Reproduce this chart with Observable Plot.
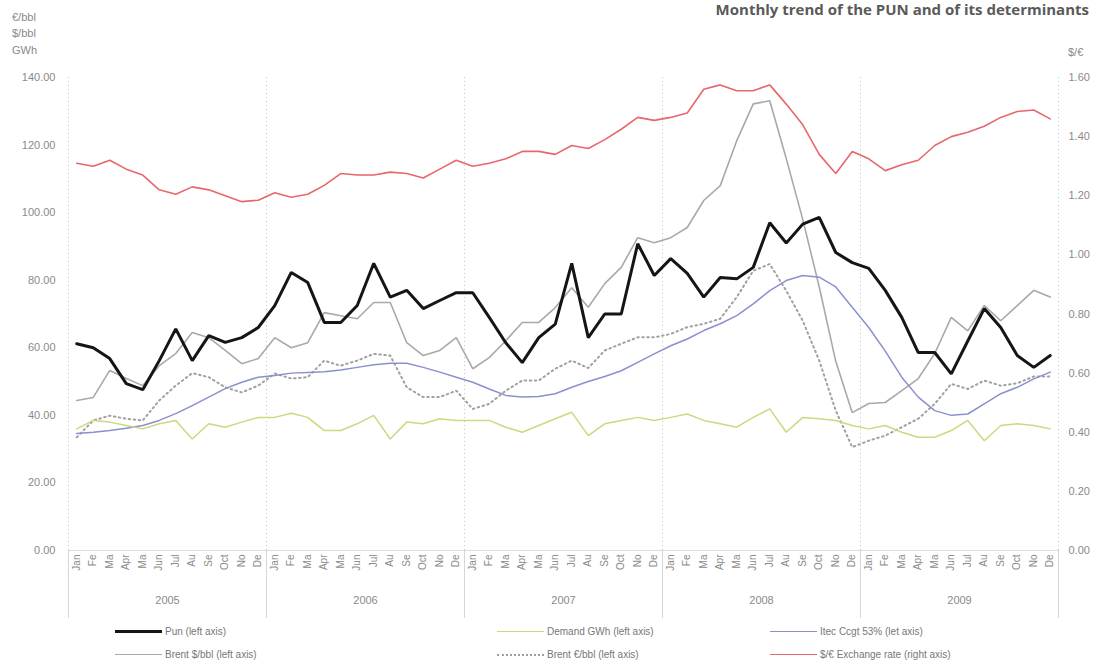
<!DOCTYPE html>
<html><head><meta charset="utf-8">
<script src="https://cdn.jsdelivr.net/npm/d3@7"></script>
<script src="https://cdn.jsdelivr.net/npm/@observablehq/plot@0.6"></script>
<style>
body{margin:0;background:#fff;font-family:"Liberation Sans",Arial,sans-serif;}
#wrap{position:relative;width:1095px;height:664px;overflow:hidden;background:#fff;}
#title{position:absolute;right:6px;top:0px;font:700 15px "Open Sans",sans-serif;color:#5a5a5a;white-space:nowrap;line-height:18px;}
.unit{position:absolute;font-size:11px;color:#888;line-height:12px;}
#legend{position:relative;width:1095px;height:44px;}
.item{position:absolute;display:flex;align-items:center;font-size:10px;color:#777;white-space:nowrap;}
.sw{width:47px;margin-right:3px;height:0;}
</style></head><body>
<div id="wrap">
<div id="chart"></div>
<div id="legend"></div>
<div id="title">Monthly trend of the PUN and of its determinants</div>
<div class="unit" style="left:12px;top:11px">€/bbl</div>
<div class="unit" style="left:12px;top:27px">$/bbl</div>
<div class="unit" style="left:12px;top:44px">GWh</div>
<div class="unit" style="left:1068px;top:46px">$/€</div>
</div>
<script>
const months = ["Jan","Fe","Ma","Apr","Ma","Jun","Jul","Au","Se","Oct","No","De"];
const years = [2005, 2006, 2007, 2008, 2009];
const yTicks = [0, 20, 40, 60, 80, 100, 120, 140];
const rightTicks = [0, 0.2, 0.4, 0.6, 0.8, 1.0, 1.2, 1.4, 1.6];

const pun = [
  61.2,60,56.8,49.4,47.6,56.2,65.6,56.2,63.6,61.6,63,66,
  72.5,82.3,79.3,67.5,67.5,72.5,85,75,77,71.6,74,76.3,
  76.3,69,61.5,55.6,63,67,85,63,70,70,90.8,81.4,
  86.4,82,75,80.8,80.4,83.8,97,91,96.6,98.6,88.2,85.2,
  83.5,77,69,58.6,58.6,52.3,62,71.6,66,57.7,54.2,57.7
];
const brentUsd = [
  44.4,45.3,53.3,50.9,48.8,54.7,58.3,64.5,63,59.2,55.3,56.8,
  63,60,61.5,70.4,69.5,68.6,73.4,73.4,61.5,57.7,59.2,63,
  53.8,57.1,62.1,67.5,67.5,71.9,77.8,72,79,83.8,92.6,91.1,
  92.6,95.6,103.6,108,121.3,132.2,133.1,116,98,78,56,40.8,
  43.5,43.8,47.3,50.9,58.3,69,65,72.5,68,72.5,77,75
];
const brentEur = [
  33.5,38.5,39.9,39,38.5,44.4,48.8,52.5,51.3,48.3,46.8,48.8,
  52.4,50.9,51.3,56.2,54.7,56.2,58.2,57.7,48.3,45.4,45.4,47.3,
  41.9,43.4,47.3,50.3,50.3,53.8,56.2,54,59.2,61.2,63.1,63.1,
  64.1,66.1,67.1,68.6,75,82.8,84.8,76.9,68,56.2,41.4,30.6,
  32.5,34,36.5,39,43.4,49.3,47.8,50.3,48.8,49.5,51.5,51.5
];
const itec = [
  34.6,35,35.5,36.2,37,38.5,40.5,42.9,45.4,47.9,49.8,51.3,
  51.8,52.5,52.7,52.9,53.4,54.2,55,55.4,55.4,54.2,52.8,51.3,
  49.8,47.8,45.9,45.4,45.6,46.4,48.3,50,51.5,53.2,55.7,58.2,
  60.6,62.6,65.1,67.1,69.5,73,76.9,79.9,81.4,80.9,78,72,
  66,59,51.3,45.4,41.4,40,40.4,43.4,46.4,48.3,50.8,52.8
];
const demand = [
  36,38.5,38,37,36,37.5,38.5,33,37.5,36.5,38,39.4,
  39.4,40.6,39.4,35.5,35.5,37.5,40,33,38,37.5,39,38.5,
  38.5,38.5,36.5,35,37,39,40.9,34,37.5,38.5,39.4,38.5,
  39.4,40.4,38.5,37.5,36.5,39.4,41.9,35,39.4,39,38.5,37,
  36,37,35,33.5,33.5,35.5,38.5,32.5,37,37.5,37,36
];
const usdEur = [
  1.31,1.30,1.32,1.29,1.27,1.22,1.205,1.23,1.22,1.20,1.18,1.185,
  1.21,1.195,1.205,1.235,1.275,1.27,1.27,1.28,1.275,1.26,1.29,1.32,
  1.30,1.31,1.325,1.35,1.35,1.34,1.37,1.36,1.39,1.425,1.465,1.455,
  1.465,1.48,1.56,1.575,1.555,1.555,1.575,1.51,1.44,1.34,1.275,1.35,
  1.325,1.285,1.305,1.32,1.37,1.40,1.415,1.435,1.465,1.485,1.49,1.46
];

const series = [
  {name:"Pun (left axis)", values:pun, stroke:"#151515", width:3, dash:null},
  {name:"Demand GWh (left axis)", values:demand, stroke:"#cbd97f", width:1.5, dash:null},
  {name:"Itec Ccgt 53% (let axis)", values:itec, stroke:"#8a8fd0", width:1.5, dash:null},
  {name:"Brent $/bbl (left axis)", values:brentUsd, stroke:"#a9a9a9", width:1.6, dash:null},
  {name:"Brent €/bbl (left axis)", values:brentEur, stroke:"#a0a0a0", width:2, dash:"1.5,3.5"},
  {name:"$/€ Exchange rate (right axis)", values:usdEur, stroke:"#e7676c", width:1.6, dash:null, right:true}
];

const leftMax = yTicks[yTicks.length-1];
const rightMax = rightTicks[rightTicks.length-1];
const rs = leftMax / rightMax;
const idx = d3.range(years.length * months.length);
const bounds = d3.range(0, idx.length + 1, months.length).map(v => v - 0.5);
const yearMid = years.map((y, k) => k * months.length + (months.length - 1) / 2);

const drawOrder = [5, 3, 4, 2, 1, 0];
const lineMarks = drawOrder.map(k => {
  const s = series[k];
  return Plot.line(idx, {
    x: i => i,
    y: i => s.right ? s.values[i] * rs : s.values[i],
    stroke: s.stroke, strokeWidth: s.width, strokeDasharray: s.dash,
    strokeLinejoin: "miter", curve: "linear"
  });
});

const chart = Plot.plot({
  width: 1095, height: 620,
  marginLeft: 68, marginRight: 37, marginTop: 77, marginBottom: 70,
  x: {type: "linear", domain: [-0.5, idx.length - 0.5]},
  y: {domain: [0, leftMax]},
  style: {fontFamily: "Liberation Sans, Arial, sans-serif", fontSize: "11px", color: "#8a8a8a", background: "#fff"},
  marks: [
    Plot.gridX(bounds, {stroke: "#c4c4c4", strokeOpacity: 1, strokeDasharray: "1,3"}),
    Plot.ruleY([0], {stroke: "#dcdcdc"}),
    Plot.axisY(yTicks, {anchor: "left", tickSize: 0, tickPadding: 13, tickFormat: d => d.toFixed(2), label: null}),
    Plot.axisY(rightTicks.map(r => r * rs), {anchor: "right", tickSize: 0, tickPadding: 10, tickFormat: d => (d / rs).toFixed(2), label: null}),
    Plot.axisX(idx, {tickSize: 0, tickPadding: 4, tickRotate: -90, tickFormat: i => months[i % months.length], label: null, fontSize: 10}),
    Plot.axisX(bounds, {tickSize: 68, tickFormat: () => "", label: null, stroke: "#d6d6d6"}),
    Plot.axisX(yearMid, {tickSize: 0, tickPadding: 46, tickFormat: d => String(years[Math.floor(d / months.length)]), label: null, fontSize: 11}),
    ...lineMarks
  ]
});
document.getElementById("chart").appendChild(chart);

// legend
const legendPos = [
  {k:0, x:115, row:0}, {k:1, x:497, row:0}, {k:2, x:770, row:0},
  {k:3, x:115, row:1}, {k:4, x:497, row:1}, {k:5, x:770, row:1}
];
const leg = document.getElementById("legend");
legendPos.forEach(p => {
  const s = series[p.k];
  const it = document.createElement("div");
  it.className = "item";
  it.style.left = p.x + "px";
  it.style.top = (p.row === 0 ? 6 : 29) + "px";
  const sw = document.createElement("div");
  sw.className = "sw";
  sw.style.borderTop = (s.dash ? Math.max(2, s.width) : s.width) + "px " + (s.dash ? "dotted " : "solid ") + s.stroke;
  it.appendChild(sw);
  const t = document.createElement("span");
  t.textContent = s.name;
  it.appendChild(t);
  leg.appendChild(it);
});
</script>
</body></html>
